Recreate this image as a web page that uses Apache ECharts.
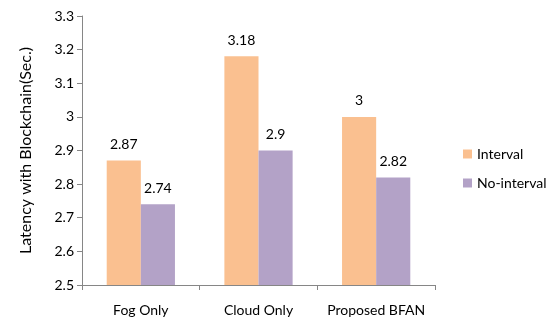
<!DOCTYPE html>
<html><head><meta charset="utf-8">
<script src="https://cdn.jsdelivr.net/npm/echarts@6/dist/echarts.min.js"></script>
<style>html,body{margin:0;padding:0;background:#fff}#c{width:550px;height:328px}</style>
</head><body><div id="c"></div>
<script>
var categories = ["Fog Only", "Cloud Only", "Proposed BFAN"];
var intervalValues = [2.87, 3.18, 3];
var noIntervalValues = [2.74, 2.9, 2.82];
var seriesNames = ["Interval", "No-interval"];
var yAxisName = "Latency with Blockchain(Sec.)";
var font = "Lato, 'Open Sans', sans-serif";
var chart = echarts.init(document.getElementById('c'));
chart.setOption({
  animation: false,
  grid: {left: 82, right: 115, top: 16, bottom: 43},
  legend: {
    orient: 'vertical', left: 458, top: 142, itemWidth: 9, itemHeight: 9, itemGap: 15,
    icon: 'rect',
    textStyle: {fontFamily: font, fontSize: 14, color: '#000'},
    data: seriesNames
  },
  xAxis: {
    type: 'category', data: categories,
    axisLine: {lineStyle: {color: '#868686'}},
    axisTick: {show: true, length: 5, lineStyle: {color: '#868686'}},
    axisLabel: {interval: 0, fontFamily: font, fontSize: 14, color: '#000', margin: 18}
  },
  yAxis: {
    type: 'value', min: 2.5, max: 3.3, interval: 0.1,
    name: yAxisName, nameLocation: 'middle', nameGap: 48,
    nameTextStyle: {fontFamily: font, fontSize: 16, color: '#000'},
    axisLine: {show: true, lineStyle: {color: '#868686'}},
    axisTick: {show: true, length: 5, lineStyle: {color: '#868686'}},
    splitLine: {show: false},
    axisLabel: {fontFamily: font, fontSize: 14, color: '#000', margin: 8,
      formatter: function(v){ return String(+v.toFixed(2)); }}
  },
  series: [
    {name: seriesNames[0], type: 'bar', data: intervalValues, barGap: '0%', barCategoryGap: '42%',
     itemStyle: {color: '#FAC090'},
     label: {show: true, position: 'top', distance: 9, fontFamily: font, fontSize: 14, color: '#000'}},
    {name: seriesNames[1], type: 'bar', data: noIntervalValues, barGap: '0%', barCategoryGap: '42%',
     itemStyle: {color: '#B3A2C7'},
     label: {show: true, position: 'top', distance: 9, fontFamily: font, fontSize: 14, color: '#000'}}
  ]
});
</script></body></html>
